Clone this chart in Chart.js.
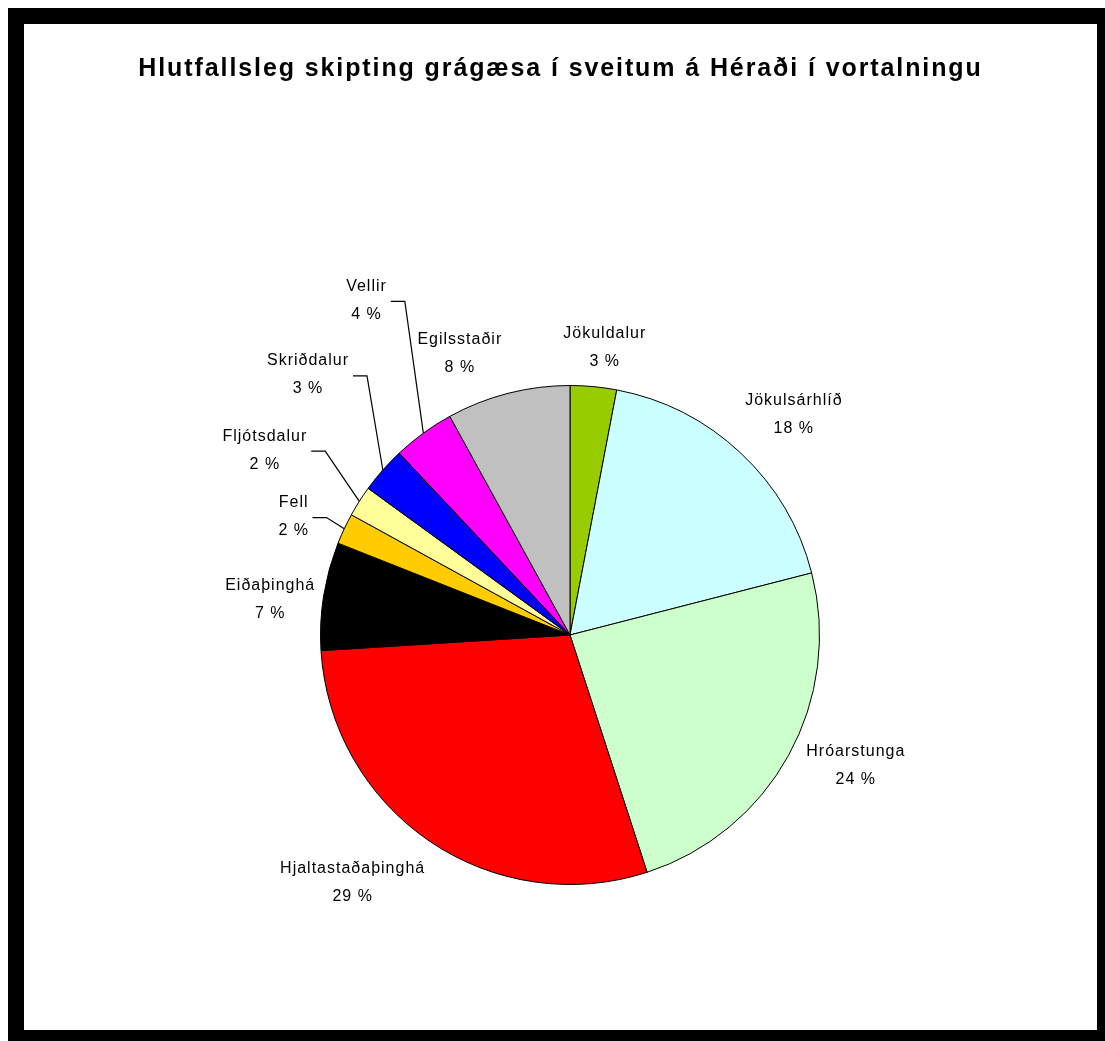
<!DOCTYPE html>
<html>
<head>
<meta charset="utf-8">
<script src="https://cdn.jsdelivr.net/npm/chart.js@4"></script>
<style>
  html, body { margin: 0; padding: 0; background: #fff; overflow: hidden; }
  #wrap { position: relative; width: 1105px; height: 1041px; }
  #frame { position: absolute; left: 8px; top: 8px; width: 1097px; height: 1033px; background: #000; }
  #inner { position: absolute; left: 16px; top: 16px; width: 1073px; height: 1006px; background: #fff; }
  #title { position: absolute; left: 24px; top: 52px; width: 1073px; text-align: center;
           font: bold 25px "Liberation Sans", Arial, sans-serif; line-height: 30px; letter-spacing: 1.9px; color: #000; z-index: 3; }
  #c { position: absolute; left: 0; top: 0; z-index: 2; }
</style>
</head>
<body>
<div id="wrap">
  <div id="frame"><div id="inner"></div></div>
  <div id="title">Hlutfallsleg skipting grágæsa í sveitum á Héraði í vortalningu</div>
  <canvas id="c" width="1105" height="1041"></canvas>
</div>
<script>
const categories = ["Jökuldalur", "Jökulsárhlíð", "Hróarstunga", "Hjaltastaðaþinghá", "Eiðaþinghá", "Fell", "Fljótsdalur", "Skriðdalur", "Vellir", "Egilsstaðir"];
const shares = [3, 18, 24, 29, 7, 2, 2, 3, 4, 8];
const sliceColors = ["#99CC00", "#CCFFFF", "#CCFFCC", "#FF0000", "#000000", "#FFCC00", "#FFFF99", "#0000FF", "#FF00FF", "#C0C0C0"];

// label placement relative to each slice: radius factor and angle nudge (deg)
const labelPlacement = [
  { r: 1.16, da: 1.5 },
  { r: 1.26, da: 2.2 },
  { r: 1.26, da: -4.2 },
  { r: 1.32, da: 7.1 },
  { r: 1.21, da: -2.2 },
  { r: 1.205, da: -2, leader: true },
  { r: 1.43, da: -1.2, leader: true },
  { r: 1.48, da: 3.4, leader: true },
  { r: 1.57, da: 4.7, leader: true },
  { r: 1.21, da: -7 }
];

const sliceLabels = {
  id: 'sliceLabels',
  afterDatasetsDraw(chart) {
    const ctx = chart.ctx;
    const meta = chart.getDatasetMeta(0);
    const vals = chart.data.datasets[0].data;
    const total = vals.reduce((a, b) => a + b, 0);
    ctx.save();
    ctx.font = '16px "Liberation Sans", Arial, sans-serif';
    try { ctx.letterSpacing = '1px'; } catch (e) {}
    ctx.fillStyle = '#000';
    ctx.strokeStyle = '#000';
    ctx.lineWidth = 1.2;
    ctx.textAlign = 'center';
    ctx.textBaseline = 'middle';
    meta.data.forEach((arc, i) => {
      const p = labelPlacement[i];
      const mid = (arc.startAngle + arc.endAngle) / 2;
      const ang = mid + p.da * Math.PI / 180;
      const R = arc.outerRadius * p.r;
      const cx = arc.x + R * Math.cos(ang);
      const cy = arc.y + R * Math.sin(ang);
      const name = chart.data.labels[i];
      const pct = Math.round(vals[i] / total * 100) + ' %';
      ctx.fillText(name, cx, cy - 14);
      ctx.fillText(pct, cx, cy + 14);
      if (p.leader) {
        const w = ctx.measureText(name).width;
        const x0 = cx + w / 2 + 4, y0 = cy + 1;
        const ex = arc.x + arc.outerRadius * Math.cos(mid);
        const ey = arc.y + arc.outerRadius * Math.sin(mid);
        ctx.beginPath();
        ctx.moveTo(x0, y0);
        ctx.lineTo(x0 + 14, y0);
        ctx.lineTo(ex, ey);
        ctx.stroke();
      }
    });
    ctx.restore();
  }
};

new Chart(document.getElementById('c'), {
  type: 'pie',
  data: {
    labels: categories,
    datasets: [{
      data: shares,
      backgroundColor: sliceColors,
      borderColor: '#000',
      borderWidth: 1
    }]
  },
  options: {
    responsive: false,
    animation: false,
    devicePixelRatio: 1,
    layout: { padding: { left: 320, right: 285, top: 385, bottom: 156 } },
    plugins: {
      legend: { display: false },
      title: { display: false },
      tooltip: { enabled: false }
    }
  },
  plugins: [sliceLabels]
});
</script>
</body>
</html>
